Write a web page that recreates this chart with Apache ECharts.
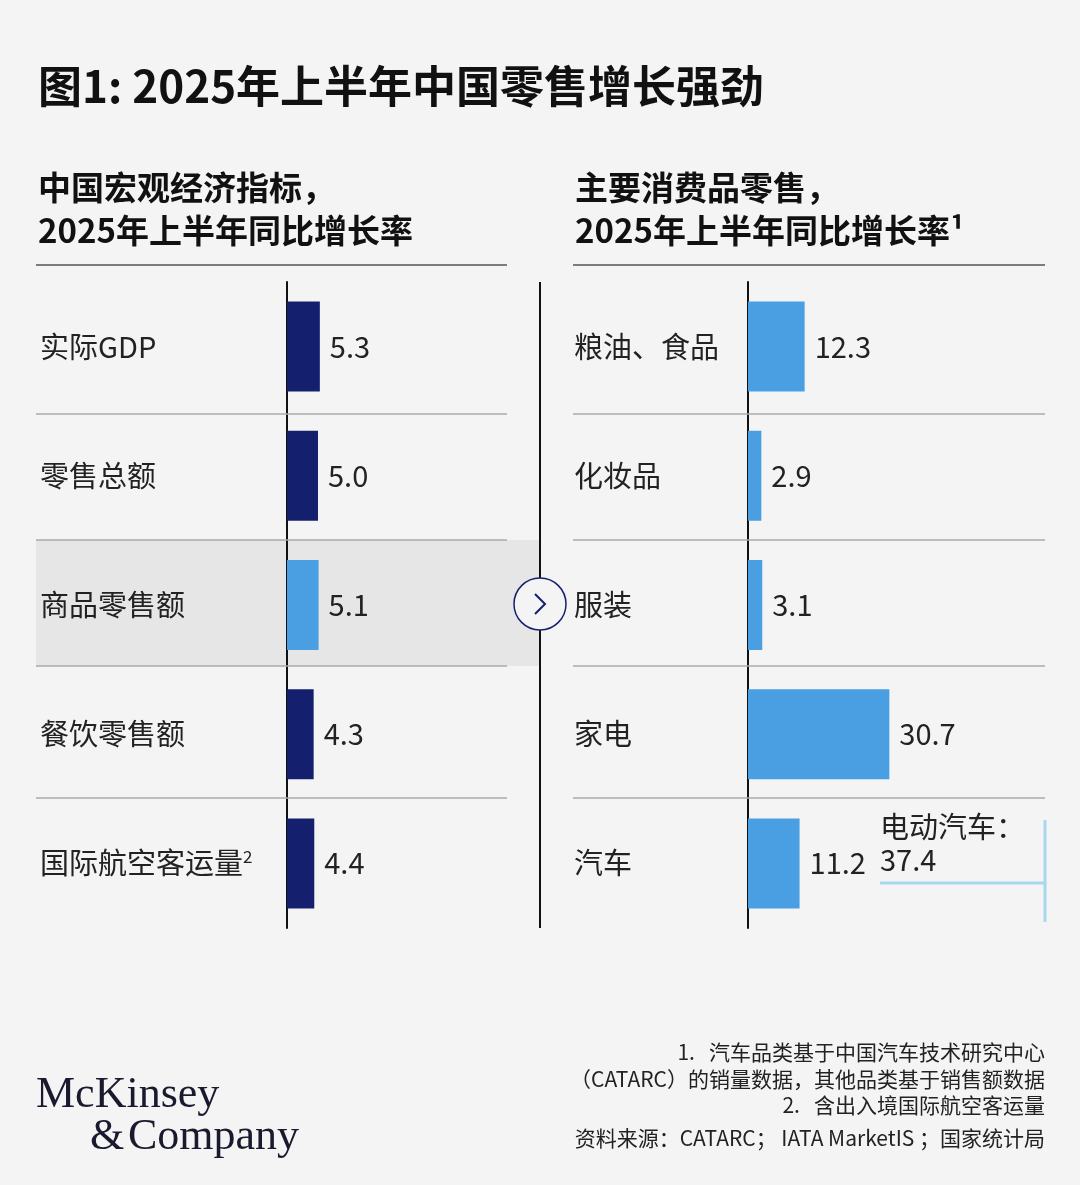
<!DOCTYPE html>
<html>
<head>
<meta charset="utf-8">
<script src="https://cdn.jsdelivr.net/npm/echarts@6/dist/echarts.min.js"></script>
<style>
html,body{margin:0;padding:0;background:#f4f4f4;}
#chart{width:1080px;height:1185px;}
</style>
</head>
<body>
<div id="chart"></div>
<script>
// 左：宏观指标
var macroNames = ['实际GDP', '零售总额', '商品零售额', '餐饮零售额', '国际航空客运量'];
var macroValues = [5.3, 5.0, 5.1, 4.3, 4.4];
// 右：主要消费品
var goodsNames = ['粮油、食品', '化妆品', '服装', '家电', '汽车'];
var goodsValues = [12.3, 2.9, 3.1, 30.7, 11.2];
var evValue = 37.4;

var dark = '#14206e', light = '#4a9fe2';
var font = '"Noto Sans CJK SC", "Noto Sans", sans-serif';
var serif = '"Liberation Serif", serif';
var chart = echarts.init(document.getElementById('chart'));

var catLabel = function(margin){
    return {
        show: true, align: 'left', margin: margin, fontSize: 29, color: '#222', fontFamily: font,
        formatter: function(v){ return v === '国际航空客运量' ? v + '{sup|2}' : v; },
        rich: { sup: { fontSize: 17, verticalAlign: 'top', padding: [0,0,14,0], color: '#222' } }
    };
};
var line = function(x1,y1,x2,y2,color,w){
    return { type: 'line', shape: {x1:x1,y1:y1,x2:x2,y2:y2}, style: {stroke: color || '#999', lineWidth: w || 1.5}, z: 1 };
};
var txt = function(x,y,t,size,opts){
    var s = { text: t, x: x, y: y, fontSize: size, fill: '#111', fontFamily: font };
    for (var k in opts) s[k] = opts[k];
    return { type: 'text', style: s, z: 5 };
};

var graphics = [
    { type: 'rect', shape: {x:36, y:540, width:504, height:126}, style: {fill:'#e6e6e6'}, z: 0 },
    txt(38, 64, '图1: 2025年上半年中国零售增长强劲', 44, {fontWeight:'bold'}),
    txt(38, 171, '中国宏观经济指标，', 33, {fontWeight:'bold'}),
    txt(38, 214, '2025年上半年同比增长率', 33, {fontWeight:'bold'}),
    txt(575, 171, '主要消费品零售，', 33, {fontWeight:'bold'}),
    txt(575, 214, '2025年上半年同比增长率¹', 33, {fontWeight:'bold'}),
    line(36,265,507,265,'#555',1.5),
    line(573,265,1045,265,'#555',1.5),
    line(540,282,540,928,'#111',2)
];
[414,540,666,798].forEach(function(y){
    graphics.push(line(36,y,507,y,'#aaa',1.5));
    graphics.push(line(573,y,1045,y,'#aaa',1.5));
});
graphics.push({ type:'circle', shape:{cx:540, cy:604, r:26}, style:{fill:'#f4f4f4', stroke:dark, lineWidth:1.5}, z:6 });
graphics.push({ type:'polyline', shape:{points:[[535,594],[545,604],[535,614]]}, style:{stroke:dark, lineWidth:2, fill:null}, z:7 });
// 电动汽车注释
graphics.push(txt(880, 812, '电动汽车：', 29, {fill:'#222'}));
graphics.push(txt(880, 845, String(evValue), 29, {fill:'#222'}));
graphics.push(line(880,883,1045,883,'#a8d8ee',3));
graphics.push(line(1045,820,1045,922,'#a8d8ee',3));
// 脚注
var notes = ['1.   汽车品类基于中国汽车技术研究中心', '（CATARC）的销量数据，其他品类基于销售额数据', '2.   含出入境国际航空客运量', '资料来源：CATARC； IATA MarketIS ；国家统计局'];
[1042, 1069, 1095, 1128].forEach(function(y, i){
    graphics.push(txt(1045, y, notes[i], 21, {align:'right', fill:'#222'}));
});
graphics.push(txt(36, 1073, 'McKinsey', 44, {fontFamily:serif, fill:'#1a1a2e'}));
graphics.push(txt(90, 1115, '&', 44, {fontFamily:serif, fill:'#1a1a2e'}));
graphics.push(txt(128, 1115, 'Company', 44, {fontFamily:serif, fill:'#1a1a2e'}));

var valLabel = { show: true, position: 'right', distance: 10, fontSize: 29, color: '#222', fontFamily: font,
    formatter: function(p){ return p.value.toFixed(1); } };

chart.setOption({
    backgroundColor: '#f4f4f4',
    animation: false,
    grid: [
        { left: 287, top: 282, width: 220, height: 646 },
        { left: 748, top: 282, width: 297, height: 646 }
    ],
    xAxis: [
        { gridIndex: 0, type: 'value', min: 0, max: 35.5, show: false },
        { gridIndex: 1, type: 'value', min: 0, max: 64.5, show: false }
    ],
    yAxis: [
        { gridIndex: 0, type: 'category', inverse: true, data: macroNames,
          axisLine: { lineStyle: { color: '#111', width: 2 } }, axisTick: { show: false }, axisLabel: catLabel(247) },
        { gridIndex: 1, type: 'category', inverse: true, data: goodsNames,
          axisLine: { lineStyle: { color: '#111', width: 2 } }, axisTick: { show: false }, axisLabel: catLabel(174) }
    ],
    series: [
        { type: 'bar', xAxisIndex: 0, yAxisIndex: 0, barWidth: 90, label: valLabel, z: 3,
          data: macroValues.map(function(v, i){ return { value: v, itemStyle: { color: i === 2 ? light : dark } }; }) },
        { type: 'bar', xAxisIndex: 1, yAxisIndex: 1, barWidth: 90, label: valLabel, z: 3,
          itemStyle: { color: light }, data: goodsValues }
    ],
    graphic: graphics
});
</script>
</body>
</html>
